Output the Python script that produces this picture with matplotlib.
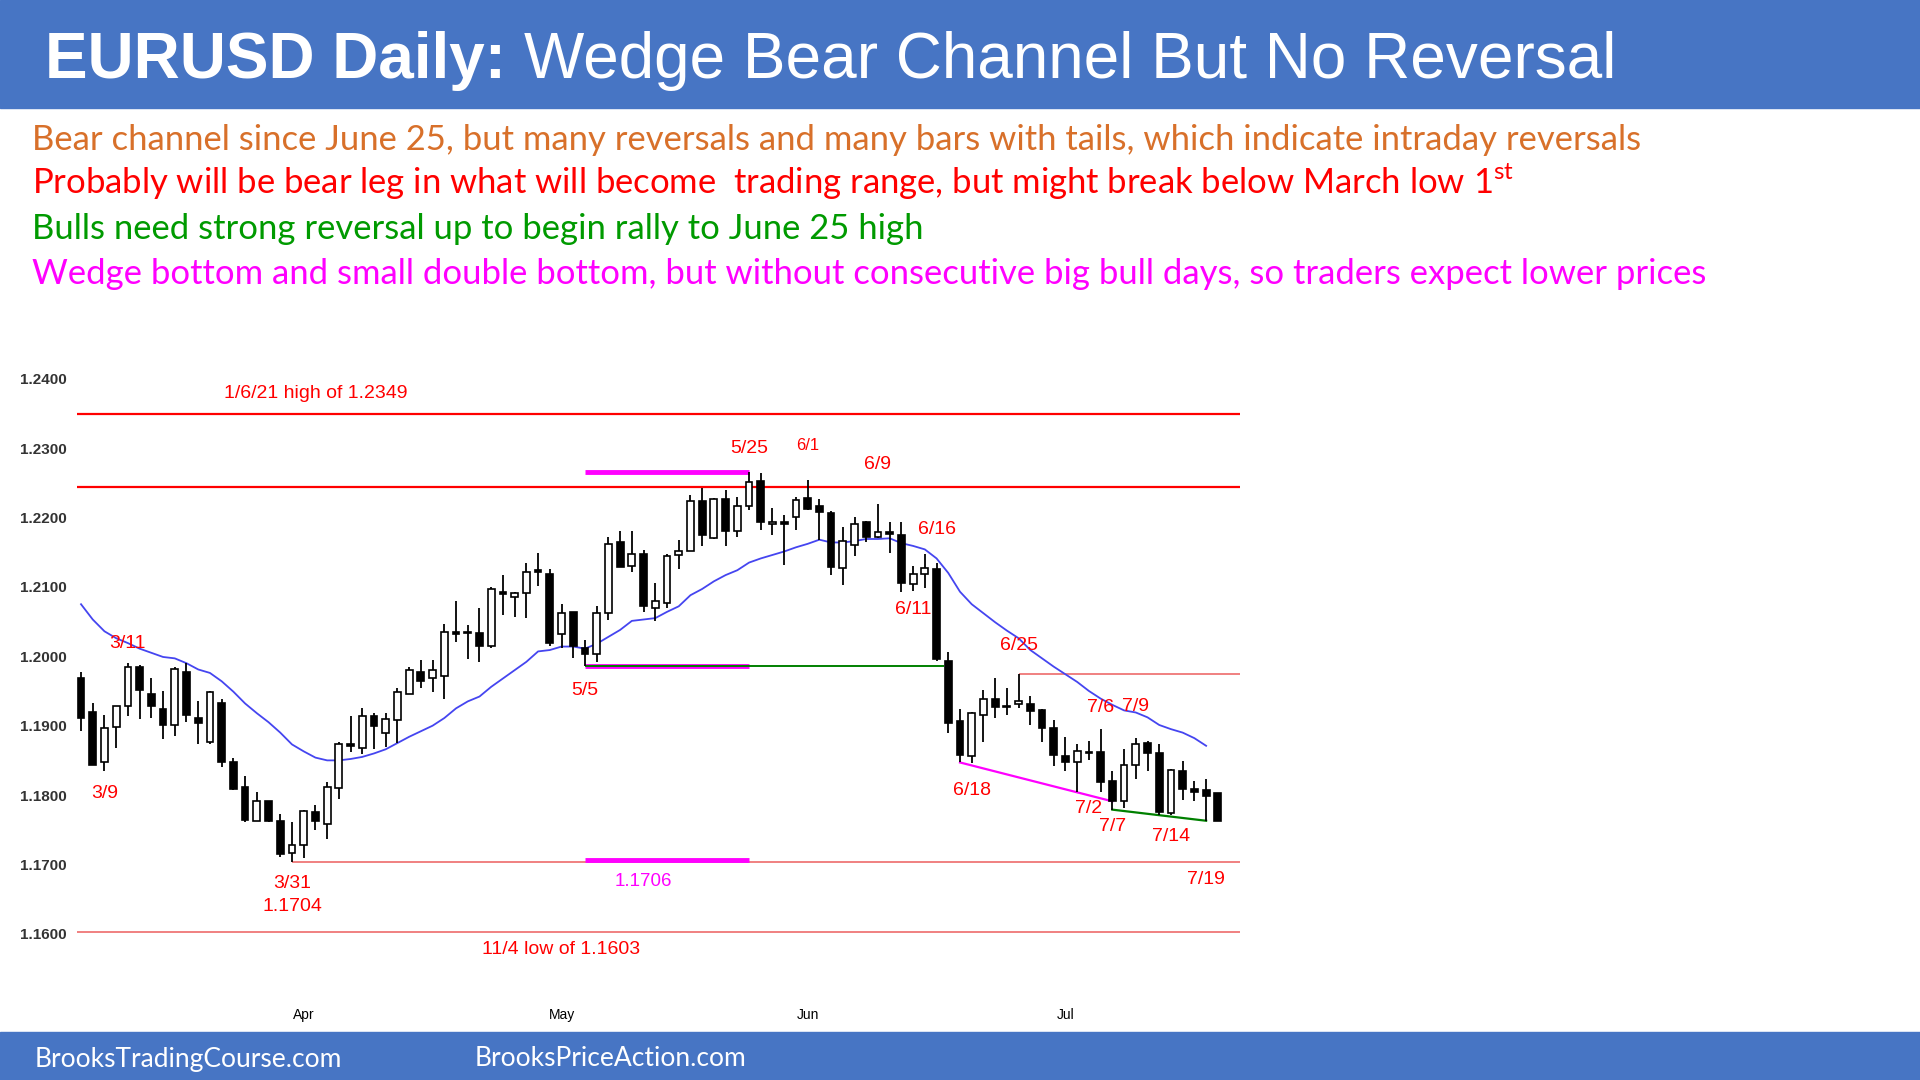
import pandas as pd
import matplotlib.pyplot as plt

# daily EURUSD bars, 3/5/2021 - 7/20/2021
dates = pd.bdate_range("2021-03-05", "2021-07-20")

opens = [1.1969, 1.1919, 1.1848, 1.1898, 1.1928, 1.1984, 1.1946, 1.1924, 1.1901, 1.1978,
         1.1911, 1.1877, 1.1932, 1.1848, 1.1812, 1.1763, 1.1791, 1.1763, 1.1716, 1.1728,
         1.1776, 1.1758, 1.1810, 1.1874, 1.1868, 1.1914, 1.1890, 1.1908, 1.1946, 1.1978,
         1.1968, 1.1972, 1.2035, 1.2035, 1.2033, 1.2015, 1.2092, 1.2085, 1.2091, 1.2124,
         1.2119, 1.2032, 1.2064, 1.2012, 1.2004, 1.2062, 1.2164, 1.2130, 1.2147, 1.2070,
         1.2077, 1.2146, 1.2151, 1.2224, 1.2171, 1.2226, 1.2181, 1.2217, 1.2253, 1.2191,
         1.2194, 1.2201, 1.2228, 1.2217, 1.2207, 1.2127, 1.2161, 1.2193, 1.2172, 1.2179,
         1.2175, 1.2104, 1.2119, 1.2126, 1.1993, 1.1907, 1.1856, 1.1915, 1.1938, 1.1929,
         1.1931, 1.1931, 1.1922, 1.1896, 1.1857, 1.1848, 1.1862, 1.1862, 1.1820, 1.1791,
         1.1843, 1.1875, 1.1860, 1.1774, 1.1835, 1.1809, 1.1807, 1.1803]
highs = [1.1977, 1.1932, 1.1915, 1.1929, 1.1990, 1.1987, 1.1968, 1.1950, 1.1984, 1.1990,
         1.1935, 1.1950, 1.1939, 1.1854, 1.1827, 1.1804, 1.1792, 1.1773, 1.1761, 1.1778,
         1.1786, 1.1819, 1.1876, 1.1914, 1.1926, 1.1918, 1.1918, 1.1954, 1.1985, 1.1994,
         1.1994, 1.2047, 1.2080, 1.2045, 1.2069, 1.2100, 1.2117, 1.2092, 1.2134, 1.2149,
         1.2126, 1.2075, 1.2064, 1.2024, 1.2072, 1.2172, 1.2180, 1.2181, 1.2153, 1.2106,
         1.2148, 1.2168, 1.2233, 1.2242, 1.2228, 1.2239, 1.2230, 1.2266, 1.2264, 1.2214,
         1.2204, 1.2230, 1.2254, 1.2226, 1.2210, 1.2187, 1.2201, 1.2195, 1.2219, 1.2194,
         1.2194, 1.2130, 1.2147, 1.2134, 1.2006, 1.1924, 1.1920, 1.1952, 1.1969, 1.1955,
         1.1975, 1.1943, 1.1924, 1.1908, 1.1883, 1.1873, 1.1878, 1.1895, 1.1835, 1.1866,
         1.1882, 1.1878, 1.1874, 1.1837, 1.1849, 1.1820, 1.1823, 1.1803]
lows = [1.1892, 1.1843, 1.1835, 1.1868, 1.1914, 1.1909, 1.1911, 1.1881, 1.1885, 1.1905,
        1.1873, 1.1873, 1.1841, 1.1808, 1.1761, 1.1763, 1.1761, 1.1711, 1.1704, 1.1710,
        1.1749, 1.1737, 1.1795, 1.1862, 1.1859, 1.1867, 1.1869, 1.1875, 1.1946, 1.1955,
        1.1949, 1.1939, 1.2021, 1.1996, 1.1992, 1.2012, 1.2060, 1.2056, 1.2055, 1.2101,
        1.2015, 1.2012, 1.1998, 1.1986, 1.1992, 1.2052, 1.2128, 1.2122, 1.2064, 1.2051,
        1.2069, 1.2126, 1.2151, 1.2159, 1.2169, 1.2159, 1.2172, 1.2211, 1.2182, 1.2175,
        1.2132, 1.2182, 1.2211, 1.2168, 1.2117, 1.2103, 1.2145, 1.2164, 1.2170, 1.2149,
        1.2092, 1.2094, 1.2099, 1.1993, 1.1889, 1.1847, 1.1846, 1.1877, 1.1911, 1.1915,
        1.1925, 1.1901, 1.1877, 1.1842, 1.1835, 1.1804, 1.1850, 1.1804, 1.1779, 1.1781,
        1.1823, 1.1835, 1.1771, 1.1771, 1.1793, 1.1791, 1.1763, 1.1762]
closes = [1.1911, 1.1843, 1.1897, 1.1928, 1.1984, 1.1951, 1.1929, 1.1901, 1.1981, 1.1916,
          1.1904, 1.1948, 1.1848, 1.1809, 1.1764, 1.1792, 1.1763, 1.1715, 1.1728, 1.1777,
          1.1762, 1.1812, 1.1873, 1.1870, 1.1914, 1.1900, 1.1909, 1.1949, 1.1980, 1.1965,
          1.1980, 1.2035, 1.2032, 1.2034, 1.2015, 1.2097, 1.2090, 1.2091, 1.2122, 1.2121,
          1.2019, 1.2062, 1.2015, 1.2004, 1.2062, 1.2162, 1.2128, 1.2147, 1.2072, 1.2079,
          1.2144, 1.2152, 1.2224, 1.2175, 1.2226, 1.2181, 1.2217, 1.2251, 1.2193, 1.2194,
          1.2190, 1.2225, 1.2212, 1.2208, 1.2128, 1.2166, 1.2190, 1.2172, 1.2179, 1.2176,
          1.2105, 1.2118, 1.2127, 1.1996, 1.1904, 1.1858, 1.1918, 1.1938, 1.1927, 1.1927,
          1.1936, 1.1921, 1.1896, 1.1858, 1.1848, 1.1864, 1.1860, 1.1819, 1.1791, 1.1843,
          1.1874, 1.1860, 1.1775, 1.1836, 1.1809, 1.1804, 1.1798, 1.1763]

# 20 bar moving average (no value on the last bar)
ma20 = [1.2075, 1.2053, 1.2036, 1.2026, 1.2019, 1.2011, 1.2005, 1.1999, 1.1997, 1.1990,
        1.1981, 1.1976, 1.1964, 1.1949, 1.1932, 1.1918, 1.1905, 1.1890, 1.1873, 1.1863,
        1.1854, 1.1850, 1.1850, 1.1852, 1.1855, 1.1860, 1.1866, 1.1875, 1.1884, 1.1892,
        1.1900, 1.1911, 1.1925, 1.1935, 1.1942, 1.1956, 1.1968, 1.1980, 1.1992, 1.2007,
        1.2009, 1.2014, 1.2014, 1.2011, 1.2018, 1.2028, 1.2038, 1.2051, 1.2053, 1.2055,
        1.2064, 1.2072, 1.2088, 1.2097, 1.2108, 1.2117, 1.2124, 1.2135, 1.2141, 1.2146,
        1.2151, 1.2157, 1.2162, 1.2168, 1.2164, 1.2164, 1.2166, 1.2169, 1.2169, 1.2170,
        1.2163, 1.2159, 1.2154, 1.2141, 1.2120, 1.2093, 1.2075, 1.2062, 1.2049, 1.2037,
        1.2026, 1.2009, 1.1997, 1.1985, 1.1974, 1.1963, 1.1950, 1.1939, 1.1930, 1.1922,
        1.1919, 1.1912, 1.1901, 1.1895, 1.1890, 1.1882, 1.1871]

y_ticks = [1.16, 1.17, 1.18, 1.19, 1.20, 1.21, 1.22, 1.23, 1.24]

jan6_high = 1.2349
may25_high = 1.2244
may5_low = 1.1986
mar31_low = 1.1704
nov4_low = 1.1603
jun25_high = 1.1975

# bar labels: text, date, price
labels = [("3/11", "2021-03-11", 1.2019), ("3/9", "2021-03-09", 1.1802),
          ("3/31", "2021-03-31", 1.1672), ("1.1704", "2021-03-31", 1.1639),
          ("5/5", "2021-05-05", 1.1951), ("5/25", "2021-05-25", 1.2300),
          ("6/9", "2021-06-09", 1.2276), ("6/16", "2021-06-16", 1.2182),
          ("6/11", "2021-06-14", 1.2067), ("6/25", "2021-06-25", 1.2016),
          ("6/18", "2021-06-21", 1.1807), ("7/6", "2021-07-06", 1.1926),
          ("7/9", "2021-07-09", 1.1928), ("7/2", "2021-07-05", 1.1781),
          ("7/7", "2021-07-07", 1.1755), ("7/14", "2021-07-14", 1.1741),
          ("7/19", "2021-07-19", 1.1678)]

title_bold = "EURUSD Daily:"
title_rest = "Wedge Bear Channel But No Reversal"
notes = ["Bear channel since June 25, but many reversals and many bars with tails, which indicate intraday reversals",
         "Probably will be bear leg in what will become  trading range, but might break below March low 1$^{\\mathregular{st}}$",
         "Bulls need strong reversal up to begin rally to June 25 high",
         "Wedge bottom and small double bottom, but without consecutive big bull days, so traders expect lower prices"]
note_colors = ["#D8702A", "#FF0000", "#009A00", "#FF00FF"]

W, H = 1920, 1080
blue = "#4775C4"
ui = "Liberation Sans"
body_font = "Lato"


def pos(d):
    return dates.get_loc(pd.Timestamp(d))


fig = plt.figure(figsize=(W / 100, H / 100), dpi=100)

# header and footer bars
fig.patches.append(plt.Rectangle((0, 1 - 108 / H), 1, 108 / H, transform=fig.transFigure,
                                 color=blue, zorder=0))
fig.patches.append(plt.Rectangle((0, 0), 1, 48 / H, transform=fig.transFigure,
                                 color=blue, zorder=0))
fig.text(45 / W, 1 - 78 / H, title_bold, color="white", fontsize=46, fontweight="bold",
         family=ui, va="baseline")
fig.text(524 / W, 1 - 78 / H, title_rest, color="white", fontsize=46, family=ui, va="baseline")

for k, (txt, col) in enumerate(zip(notes, note_colors)):
    fig.text(32 / W, 1 - (150 + k * 44.5) / H, txt, color=col, fontsize=24.9, family=body_font,
             va="baseline")

fig.text(35 / W, 1 - 1059 / H, "BrooksTradingCourse.com", color="white", fontsize=19,
         family=body_font, va="center")
fig.text(475 / W, 1 - 1059 / H, "BrooksPriceAction.com", color="white", fontsize=19,
         family=body_font, va="center")

ax = fig.add_axes([69.3 / W, 0.07426, (1253 - 69.3) / W, 0.58796])
x = list(range(len(dates)))
left, right = -0.35, len(dates) + 0.9

# reference lines
ax.hlines(jan6_high, left, right, color="red", lw=1.6)
ax.hlines(may25_high, left, right, color="red", lw=1.6)
ax.hlines(nov4_low, left, right, color="#F08080", lw=1.4)
ax.hlines(mar31_low, pos("2021-03-31"), right, color="#F08080", lw=1.4)
ax.hlines(jun25_high, pos("2021-06-25"), right, color="#F08080", lw=1.4)
ax.hlines([highs[pos("2021-05-25")], mar31_low + 0.0002], pos("2021-05-05"), pos("2021-05-25"),
          color="#FF00FF", lw=3.5)
ax.hlines(may5_low, pos("2021-05-05"), pos("2021-05-25"), color="#FF00FF", lw=3.5)
ax.hlines(may5_low, pos("2021-05-05"), pos("2021-06-16") + 0.6, color="#008000", lw=1.4)

# wedge and double bottom lines
ax.plot([pos("2021-06-18"), pos("2021-07-07")], [lows[pos("2021-06-18")], closes[pos("2021-07-07")]],
        color="#FF00FF", lw=1.6)
ax.plot([pos("2021-07-07"), pos("2021-07-19")], [lows[pos("2021-07-07")], lows[pos("2021-07-19")]],
        color="#008000", lw=1.6)

ax.plot(x[:len(ma20)], ma20, color="#4545F0", lw=1.3, zorder=2)

# candles
up = [c >= o for o, c in zip(opens, closes)]
ax.vlines(x, lows, highs, color="black", lw=1.3, zorder=3)
bottoms = [min(o, c) for o, c in zip(opens, closes)]
heights = [max(abs(c - o), 0.00004) for o, c in zip(opens, closes)]
ax.bar(x, heights, bottom=bottoms, width=0.58, color=["white" if u else "black" for u in up],
       edgecolor="black", linewidth=1.2, zorder=4)

# annotations
for txt, d, p in labels:
    ax.text(pos(d), p, txt, color="red", fontsize=14, family=ui, ha="center", va="center")
ax.text(pos("2021-06-01"), 1.2303, "6/1", color="red", fontsize=12, family=ui,
        ha="center", va="center")
ax.text(pos("2021-04-02"), 1.2379, "1/6/21 high of 1.2349", color="red", fontsize=14,
        family=ui, ha="center", va="center")
ax.text(pos("2021-05-03"), 1.1577, "11/4 low of 1.1603", color="red", fontsize=14,
        family=ui, ha="center", va="center")
ax.text(pos("2021-05-12") - 0.05, 1.1675, "1.1706", color="#FF00FF", fontsize=13.5,
        family=ui, ha="center", va="center")

ax.set_xlim(-1, len(dates) + 2)
ax.set_ylim(1.1505, 1.2420)
ax.set_yticks(y_ticks)
ax.set_yticklabels(["%.4f" % t for t in y_ticks], fontsize=11, fontweight="bold",
                   color="#333333", family=ui)

month_pos = [pos(d) for d in ["2021-04-01", "2021-05-03", "2021-06-01", "2021-07-01"]]
ax.set_xticks(month_pos)
ax.set_xticklabels(["Apr", "May", "Jun", "Jul"], fontsize=10, family=ui)
ax.tick_params(length=0, pad=2)
ax.tick_params(axis="x", pad=6)
for s in ax.spines.values():
    s.set_visible(False)

fig.savefig("out.png", dpi=100)
